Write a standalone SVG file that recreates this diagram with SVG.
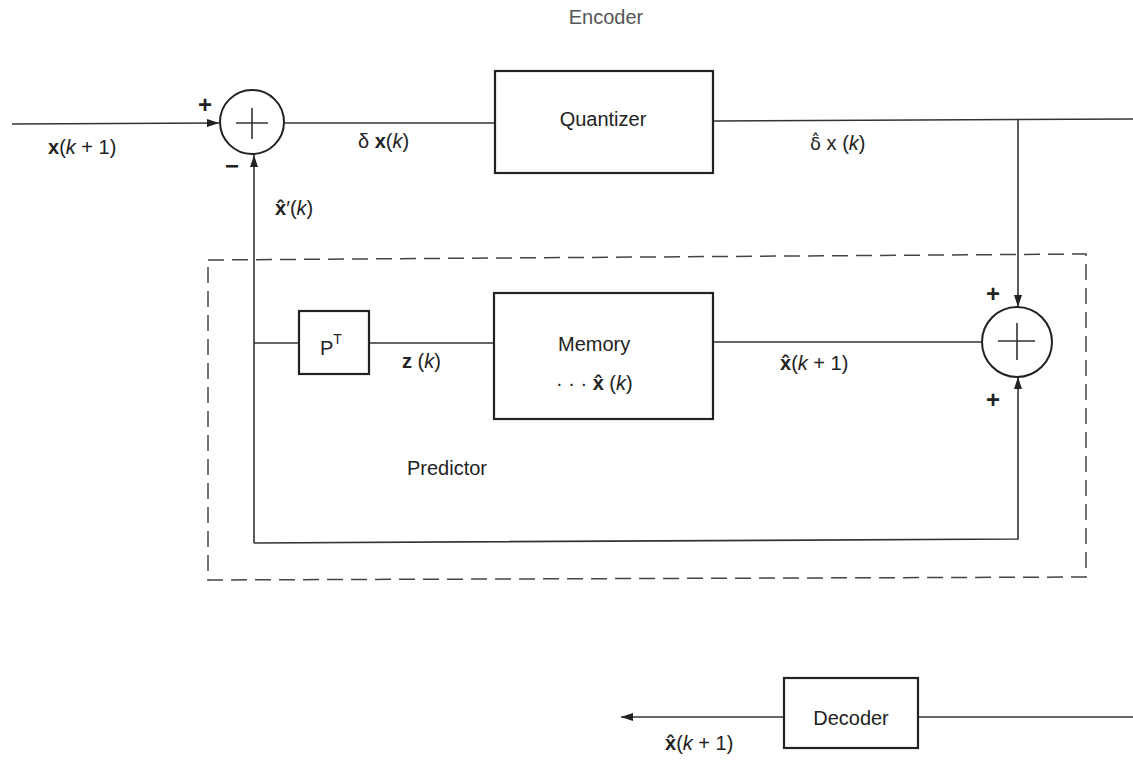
<svg xmlns="http://www.w3.org/2000/svg" width="1133" height="767" viewBox="0 0 1133 767">
<style>
.bg{fill:#fff}
.box{fill:none;stroke:#222;stroke-width:2.2}
.ln{fill:none;stroke:#333;stroke-width:1.6}
.sum{fill:none;stroke:#222;stroke-width:2}
.dash{fill:none;stroke:#444;stroke-width:1.5;stroke-dasharray:16 8}
.t{font-family:"Liberation Sans",Arial,sans-serif;font-size:20px;fill:#222}
.c{text-anchor:middle}
.sign{font-family:"Liberation Sans",Arial,sans-serif;font-size:24px;font-weight:bold;fill:#222;text-anchor:middle}
.b{font-weight:bold}
.i{font-style:italic}
.dj{font-family:"DejaVu Sans",sans-serif;font-size:18px}
</style>
<defs>
<marker id="arr" markerUnits="userSpaceOnUse" markerWidth="12" markerHeight="8" refX="12" refY="4" orient="auto">
<path d="M0,0 L12,4 L0,8 z" fill="#222"/>
</marker>
</defs>
<rect class="bg" x="0" y="0" width="1133" height="767"/>
<text class="t c" x="606" y="24" style="fill:#555">Encoder</text>

<g id="predictor-boundary">
<path class="dash" d="M208,260 L1086,254 L1086,577 L208,580 Z"/>
<text class="t" x="407" y="475">Predictor</text>
</g>

<g id="connectors">
<path class="ln" d="M12,124 L219,123" marker-end="url(#arr)"/>
<path class="ln" d="M285,123 L495,123"/>
<path class="ln" d="M713,121 L1133,119"/>
<path class="ln" d="M1018,120 L1018,307" marker-end="url(#arr)"/>
<path class="ln" d="M713,342 L982,342"/>
<path class="ln" d="M369,343 L494,343"/>
<path class="ln" d="M254,343 L299,343"/>
<path class="ln" d="M254,543 L1018,539 L1018,377" marker-end="url(#arr)"/>
<path class="ln" d="M254,543 L254,155" marker-end="url(#arr)"/>
<path class="ln" d="M1133,717 L918,717"/>
<path class="ln" d="M784,717 L621,717" marker-end="url(#arr)"/>
</g>

<g id="sum1">
<circle class="sum" cx="252" cy="122" r="32"/>
<path class="ln" d="M236,123 L268,123 M252,108 L252,139"/>
<text class="sign" x="205" y="113">+</text>
<text class="sign" x="232" y="174">−</text>
</g>

<g id="quantizer">
<rect class="box" x="495" y="71" width="218" height="102"/>
<text class="t c" x="603" y="126">Quantizer</text>
</g>

<g id="sum2">
<circle class="sum" cx="1017" cy="342" r="35"/>
<path class="ln" d="M998,341 L1035,341 M1017,323 L1017,360"/>
<text class="sign" x="993" y="302">+</text>
<text class="sign" x="993" y="408">+</text>
</g>

<g id="pt">
<rect class="box" x="299" y="311" width="70" height="63"/>
<text class="t" x="320" y="355">P<tspan font-size="14" dy="-11">T</tspan></text>
</g>

<g id="memory">
<rect class="box" x="494" y="293" width="219" height="126"/>
<text class="t" x="558" y="351">Memory</text>
<text class="t" x="556" y="390">· · ·  <tspan class="b">x̂</tspan> (<tspan class="i">k</tspan>)</text>
</g>

<g id="decoder">
<rect class="box" x="784" y="678" width="134" height="70"/>
<text class="t c" x="851" y="725">Decoder</text>
</g>

<g id="labels">
<text class="t" x="48" y="154"><tspan class="b">x</tspan>(<tspan class="i">k</tspan> + 1)</text>
<text class="t" x="358" y="148">δ <tspan class="b">x</tspan>(<tspan class="i">k</tspan>)</text>
<text class="t" x="275" y="215"><tspan class="b">x̂</tspan>′(<tspan class="i">k</tspan>)</text>
<text class="t" x="810" y="150"><tspan class="dj">δ̂</tspan> x (<tspan class="i">k</tspan>)</text>
<text class="t" x="402" y="368"><tspan class="b">z</tspan> (<tspan class="i">k</tspan>)</text>
<text class="t" x="780" y="370"><tspan class="b">x̂</tspan>(<tspan class="i">k</tspan> + 1)</text>
<text class="t" x="665" y="750"><tspan class="b">x̂</tspan>(<tspan class="i">k</tspan> + 1)</text>
</g>
</svg>
